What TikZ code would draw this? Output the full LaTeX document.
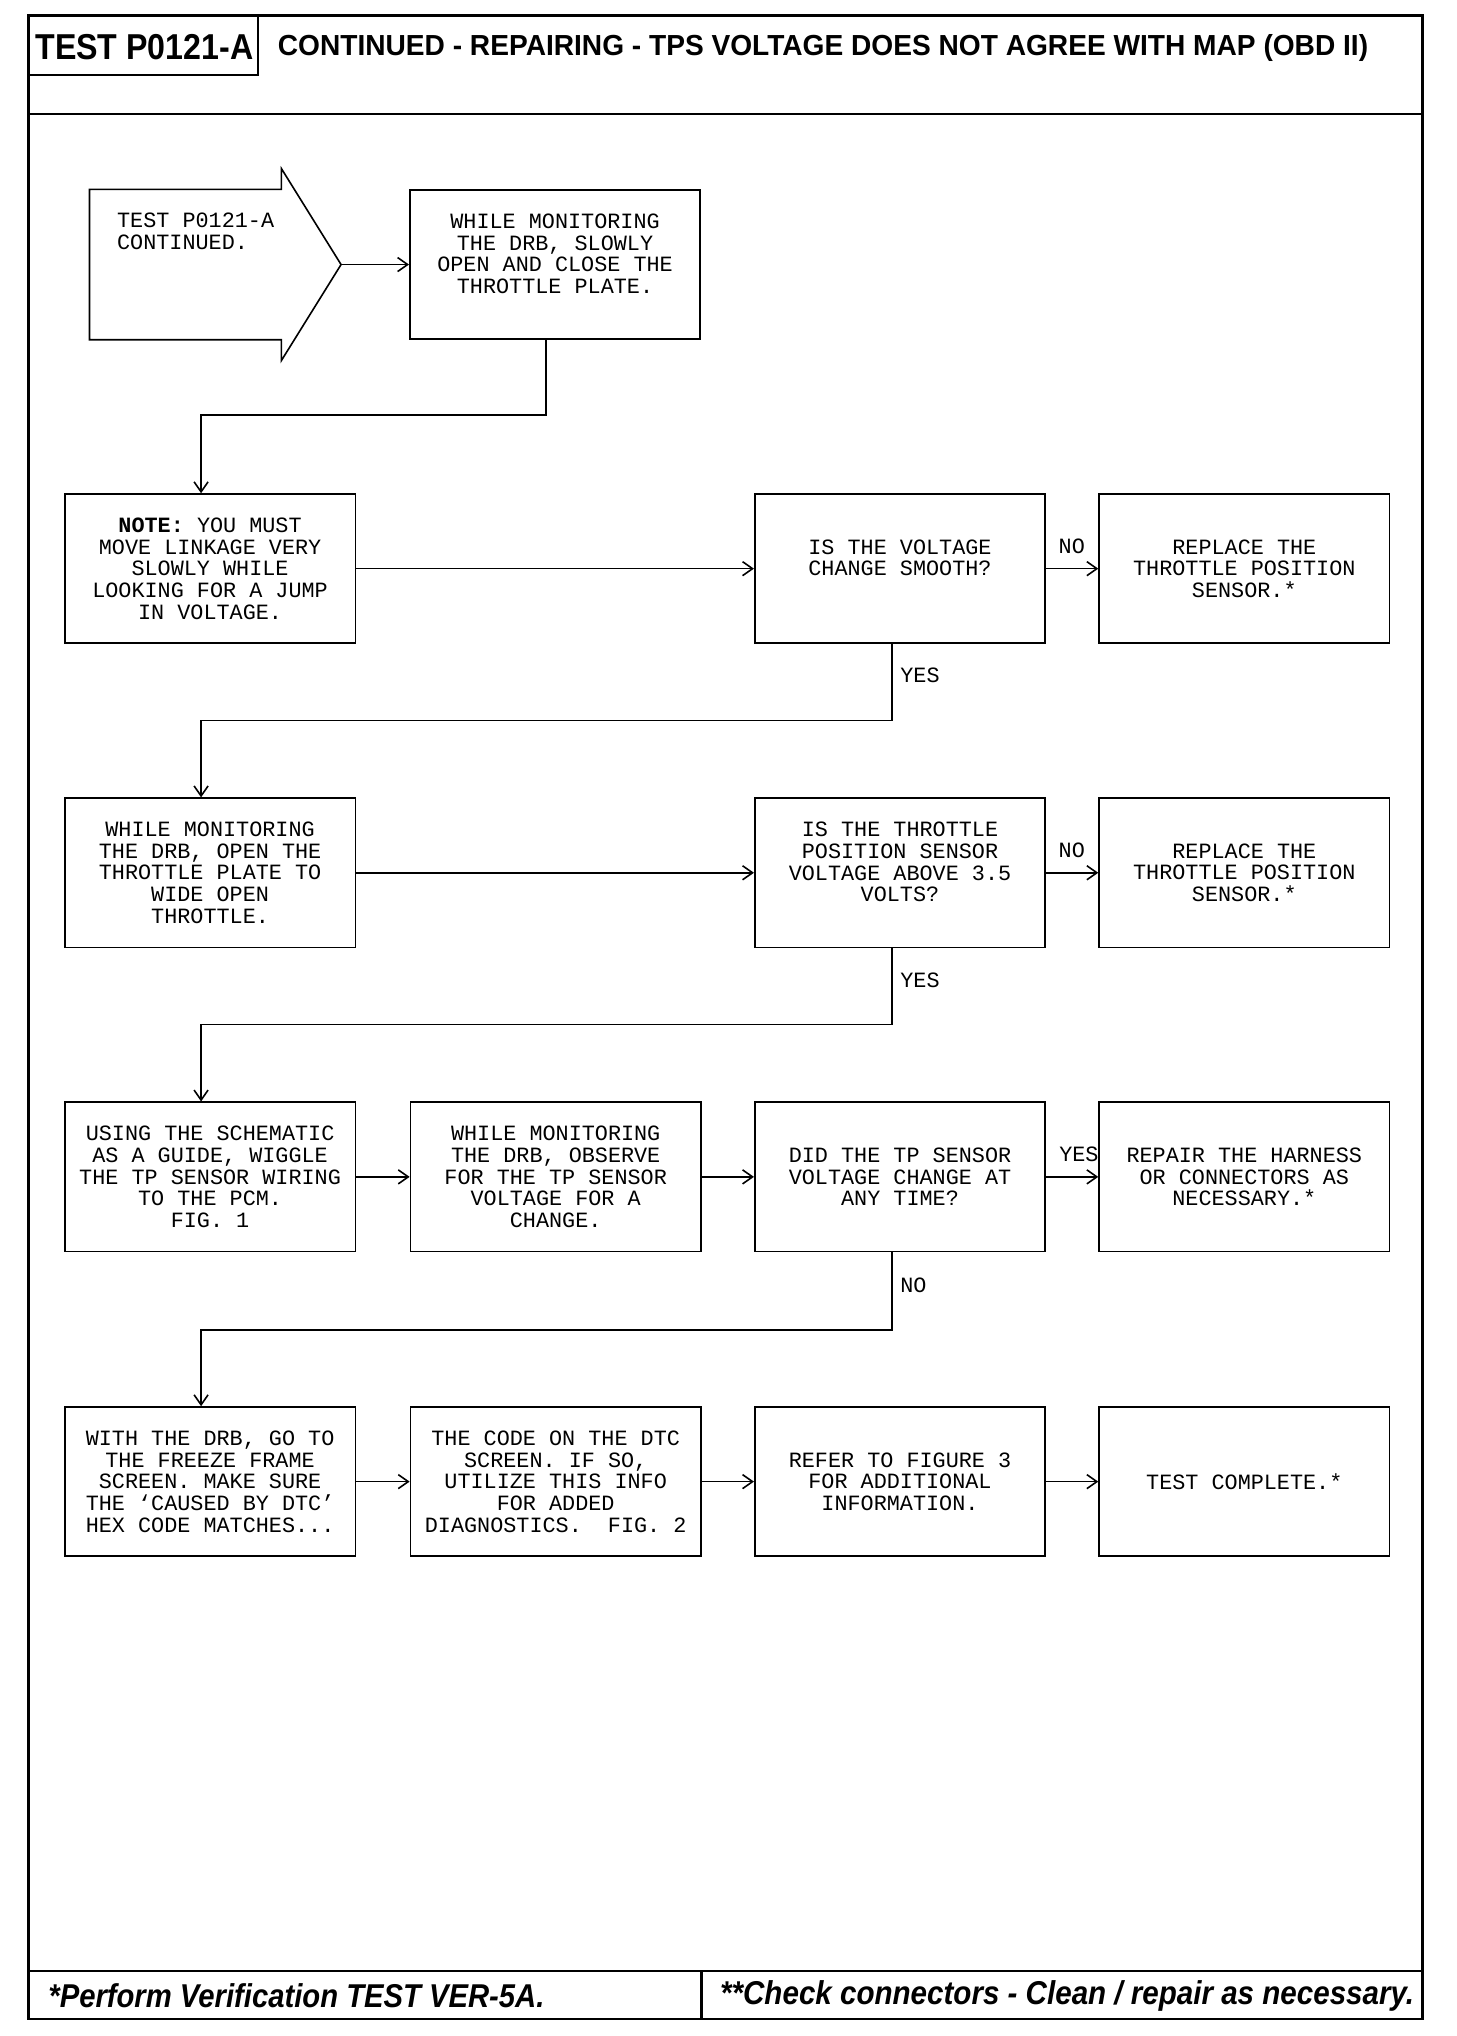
\documentclass[tikz,border=0pt]{standalone}
\usepackage{fontspec}
\setmainfont{Liberation Sans}
\newfontfamily\monof{Liberation Mono}
\usetikzlibrary{arrows.meta,calc}
\begin{document}
\begin{tikzpicture}[x=0.6483pt,y=-0.6483pt,
  box/.style={draw,line width=0.8pt,minimum width=145.2pt,minimum height=74.6pt,inner sep=0pt,align=center,font=\monof\fontsize{10.9}{10.9}\selectfont},
  lbl/.style={inner sep=0pt,font=\monof\fontsize{10.9}{10.9}\selectfont},
  arr/.style={line width=0.8pt,-{Straight Barb[length=5pt,width=7pt]}},
  frame/.style={line width=1.3pt}]
\useasboundingbox (0,0) rectangle (1123,1570);
\fill[white] (0,0) rectangle (1123,1570);
% frame
\draw[frame] (22,12) rectangle (1097,1557);
\draw[frame] (22,88) -- (1097,88);
\draw[frame] (22,1520) -- (1097,1520);
\draw[frame] (541,1520) -- (541,1557);
\draw[line width=1pt] (22,12) rectangle (199,58);
\node[anchor=west,inner sep=0pt,font=\bfseries\fontsize{18}{18}\selectfont] (ttl) at (27,36) {\resizebox{109pt}{\height}{TEST P0121-A}};
\node[anchor=west,inner sep=0pt,font=\bfseries\fontsize{14.5}{14.5}\selectfont] (title) at (214,37) {\resizebox{545pt}{\height}{CONTINUED - REPAIRING - TPS VOLTAGE DOES NOT AGREE WITH MAP (OBD II)}};
\node[anchor=west,inner sep=0pt,font=\bfseries\itshape\fontsize{16.5}{16.5}\selectfont] (ft1) at (37,1539) {\resizebox{248pt}{\height}{*Perform Verification TEST VER-5A.}};
\node[anchor=west,inner sep=0pt,font=\bfseries\itshape\fontsize{16.5}{16.5}\selectfont] (ft2) at (555,1539) {\resizebox{347pt}{\height}{**Check connectors - Clean / repair as necessary.}};
% start arrow
\draw[line width=0.8pt] (69,146) -- (217,146) -- (217,130) -- (263,204) -- (217,278) -- (217,262) -- (69,262) -- cycle;
\coordinate (tip) at (263,204);
\node[lbl,align=left,anchor=west] (b1) at (90,178.5) {TEST P0121-A\\CONTINUED.};
% boxes
\node[box] (b2) at (428,204) {WHILE MONITORING\\THE DRB, SLOWLY\\OPEN AND CLOSE THE\\THROTTLE PLATE.\\\mbox{}};
\node[box] (b3) at (162,438.5) {\textbf{NOTE:} YOU MUST\\MOVE LINKAGE VERY\\SLOWLY WHILE\\LOOKING FOR A JUMP\\IN VOLTAGE.};
\node[box] (b4) at (694,438.5) {IS THE VOLTAGE\\CHANGE SMOOTH?\\\mbox{}};
\node[box] (b5) at (959.5,438.5) {REPLACE THE\\THROTTLE POSITION\\SENSOR.*};
\node[box] (b6) at (162,673) {WHILE MONITORING\\THE DRB, OPEN THE\\THROTTLE PLATE TO\\WIDE OPEN\\THROTTLE.};
\node[box] (b7) at (694,673) {IS THE THROTTLE\\POSITION SENSOR\\VOLTAGE ABOVE 3.5\\VOLTS?\\\mbox{}};
\node[box] (b8) at (959.5,673) {REPLACE THE\\THROTTLE POSITION\\SENSOR.*};
\node[box] (b9) at (162,907.5) {USING THE SCHEMATIC\\AS A GUIDE, WIGGLE\\THE TP SENSOR WIRING\\TO THE PCM.\\FIG. 1};
\node[box] (b10) at (428.5,907.5) {WHILE MONITORING\\THE DRB, OBSERVE\\FOR THE TP SENSOR\\VOLTAGE FOR A\\CHANGE.};
\node[box] (b11) at (694,907.5) {DID THE TP SENSOR\\VOLTAGE CHANGE AT\\ANY TIME?};
\node[box] (b12) at (959.5,907.5) {REPAIR THE HARNESS\\OR CONNECTORS AS\\NECESSARY.*};
\node[box] (b13) at (162,1142.5) {WITH THE DRB, GO TO\\THE FREEZE FRAME\\SCREEN. MAKE SURE\\THE ‘CAUSED BY DTC’\\HEX CODE MATCHES...};
\node[box] (b14) at (428.5,1142.5) {THE CODE ON THE DTC\\SCREEN. IF SO,\\UTILIZE THIS INFO\\FOR ADDED\\DIAGNOSTICS.~~FIG. 2};
\node[box] (b15) at (694,1142.5) {REFER TO FIGURE 3\\FOR ADDITIONAL\\INFORMATION.};
\node[box] (b16) at (959.5,1142.5) {TEST COMPLETE.*};
% connectors
\draw[arr] (tip) -- (b2.west);
\draw[arr] ([xshift=-4.5pt]b2.south) -- ++(0,58) -| ([xshift=-4.5pt]b3.north);
\draw[arr] (b3.east) -- (b4.west);
\draw[arr] (b4.east) -- (b5.west);
\draw[arr] ([xshift=-3.9pt]b4.south) -- ++(0,59) -| ([xshift=-4.5pt]b6.north);
\draw[arr] (b6.east) -- (b7.west);
\draw[arr] (b7.east) -- (b8.west);
\draw[arr] ([xshift=-3.9pt]b7.south) -- ++(0,59) -| ([xshift=-4.5pt]b9.north);
\draw[arr] (b9.east) -- (b10.west);
\draw[arr] (b10.east) -- (b11.west);
\draw[arr] (b11.east) -- (b12.west);
\draw[arr] ([xshift=-3.9pt]b11.south) -- ++(0,60) -| ([xshift=-4.5pt]b13.north);
\draw[arr] (b13.east) -- (b14.west);
\draw[arr] (b14.east) -- (b15.west);
\draw[arr] (b15.east) -- (b16.west);
% labels
\node[lbl] (no1) at (826.5,421) {NO};
\node[lbl,anchor=west] (yes1) at (694,521) {YES};
\node[lbl] (no2) at (826.5,656) {NO};
\node[lbl,anchor=west] (yes2) at (694,756) {YES};
\node[lbl] (yes3) at (832,890) {YES};
\node[lbl,anchor=west] (no3) at (694,991) {NO};
\end{tikzpicture}
\end{document}
